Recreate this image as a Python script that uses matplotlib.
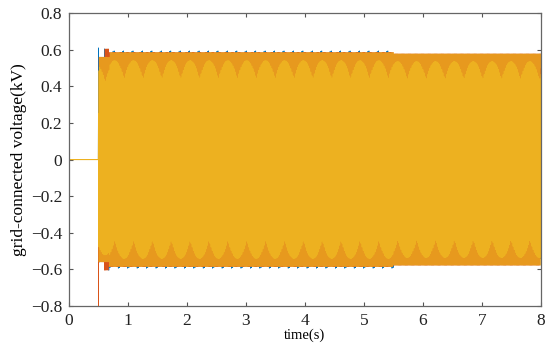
import matplotlib.pyplot as plt
import numpy as np

plt.rcParams["font.family"] = ["Liberation Serif", "DejaVu Serif"]

# readings from the reference
t_start = 0.5          # inverter connects (s)
t_end = 8.0
grid_freq = 50.0       # Hz
seg_times = [0.5, 0.6, 0.68, 5.5]        # start of each amplitude segment (s)
amp_blue = [0.56, 0.605, 0.594, 0.575]   # peak voltage per segment (kV)
amp_red = [0.56, 0.605, 0.586, 0.578]
amp_yellow = [0.56, 0.56, 0.585, 0.578]
amp_yellow_core = [0.52, 0.52, 0.54, 0.535]
shift_deg = {"blue": 0, "red": -120, "yellow": 120}
colors = {"blue": "#0072BD", "red": "#D95319", "yellow": "#EDB120"}
spike_red = -0.85
spike_blue = 0.61
xticks = [0, 1, 2, 3, 4, 5, 6, 7, 8]
yticks = [-0.8, -0.6, -0.4, -0.2, 0, 0.2, 0.4, 0.6, 0.8]
ytick_labels = ["\u22120.8", "\u22120.6", "\u22120.4", "\u22120.2", "0",
                "0.2", "0.4", "0.6", "0.8"]


def phase(name, amps, samples_per_cycle):
    dt = 1.0 / (grid_freq * samples_per_cycle)
    t = np.arange(0, t_end + dt, dt)
    i = np.searchsorted(seg_times, t, side="right") - 1
    a = np.where(i >= 0, np.array(amps)[np.clip(i, 0, None)], 0.0)
    v = a * np.sin(2 * np.pi * grid_freq * (t - t_start)
                   + np.deg2rad(shift_deg[name]))
    return t, v


fig = plt.figure(figsize=(5.5, 3.53), dpi=100)
ax = fig.add_axes([0.1255, 0.133, 0.858, 0.83])

# blue and red phases (scope export, coarse steps)
tb, vb = phase("blue", amp_blue, 5.125)
vb[np.argmin(np.abs(tb - t_start))] = spike_blue
ax.plot(tb, vb, color=colors["blue"], lw=0.5)

tr, vr = phase("red", amp_red, 40)
vr[np.argmin(np.abs(tr - t_start))] = spike_red
ax.plot(tr, vr, color=colors["red"], lw=0.5)

# yellow phase: fine trace blended over red, then the coarse envelope
ty, vy = phase("yellow", amp_yellow, 40)
ax.plot(ty, vy, color=colors["yellow"], lw=0.5, alpha=0.75)
tc, vc = phase("yellow", amp_yellow_core, 5.0625)
ax.plot(tc, vc, color=colors["yellow"], lw=0.8)

ax.set_xlim(0, 8)
ax.set_ylim(-0.8, 0.8)
ax.set_xticks(xticks)
ax.set_yticks(yticks)
ax.set_yticklabels(ytick_labels)
ax.tick_params(direction="in", top=True, right=True, length=3,
               labelsize=12.5, color="#555555", labelcolor="#222222")
ax.tick_params(axis="x", pad=5)
ax.tick_params(axis="y", pad=5)
for s in ax.spines.values():
    s.set_color("#666666")
    s.set_linewidth(0.9)
ax.set_xlabel("time(s)", fontsize=10.5, labelpad=0)
ax.set_ylabel("grid-connected voltage(kV)", fontsize=12.5, labelpad=3)

fig.savefig("out.png", dpi=100)
